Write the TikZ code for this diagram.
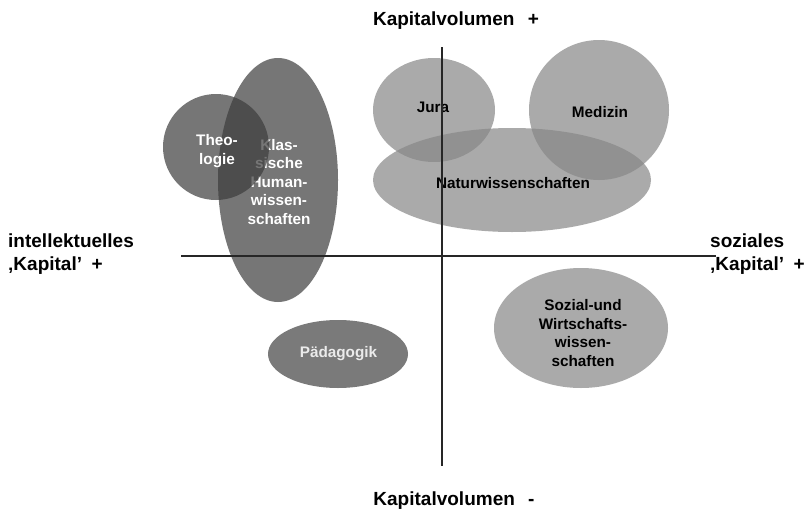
\documentclass[tikz,border=0pt]{standalone}
\usepackage{fontspec}
\setmainfont{Liberation Sans}
\definecolor{lightblob}{RGB}{135,135,135}
\definecolor{darkblob}{RGB}{61,61,61}
\definecolor{paedblob}{RGB}{122,122,122}
\begin{document}
\begin{tikzpicture}[x=1pt,y=-1pt,
  lbl/.style={font=\bfseries\fontsize{15.3}{18.5}\selectfont, align=center, inner sep=0pt},
  axlbl/.style={font=\bfseries\fontsize{19}{23}\selectfont, inner sep=0pt},
  light/.style={fill=lightblob, fill opacity=0.7},
  dark/.style={fill=darkblob, fill opacity=0.7},
  axis/.style={draw=black!85, line width=1.2pt}]
\useasboundingbox[fill=white] (0,0) rectangle (808,514);
% blobs
\fill[dark] (278,180) ellipse [x radius=60, y radius=122];
\node[lbl, text=white] (klass) at (279,182) {Klas-\\sische\\Human-\\wissen-\\schaften};
\fill[dark] (216,147) circle [radius=53];
\node[lbl, text=white] (theo) at (217,151) {Theo-\\logie};
\fill[paedblob] (338,354) ellipse [x radius=70, y radius=34];
\node[lbl, text=white!92!black] (paed) at (338.5,354) {Pädagogik};
\fill[light] (434,110) ellipse [x radius=61, y radius=52];
\fill[light] (512,180) ellipse [x radius=139, y radius=52];
\fill[light] (599,110) circle [radius=70];
\fill[light] (581,328) ellipse [x radius=87, y radius=60];
\node[lbl] (jura) at (433,107) {Jura};
\node[lbl] (med) at (600,112) {Medizin};
\node[lbl] (natur) at (513,183) {Naturwissenschaften};
\node[lbl] (sozw) at (583,333) {Sozial-und\\Wirtschafts-\\wissen-\\schaften};
% axes
\coordinate (xl) at (181,256);
\coordinate (xr) at (716,256);
\coordinate (yt) at (442,47);
\coordinate (yb) at (442,466);
\draw[axis] (xl) -- (xr);
\draw[axis] (yt) -- (yb);
% axis labels
\node[axlbl] (top) at (456,21) {Kapitalvolumen\hspace{0.7em}+};
\node[axlbl] (bot) at (454,501) {Kapitalvolumen\hspace{0.7em}-};
\node[axlbl, anchor=west, align=left] (left) at (8,254) {intellektuelles\\‚Kapital’\enspace +};
\node[axlbl, anchor=west, align=left] (right) at (710,254) {soziales\\‚Kapital’\enspace +};
\end{tikzpicture}
\end{document}
